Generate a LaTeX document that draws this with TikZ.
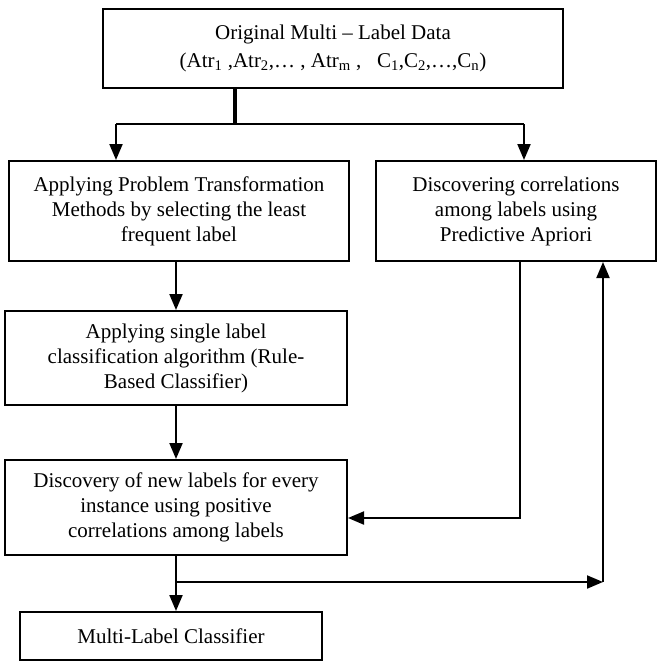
\documentclass[tikz,border=0pt]{standalone}
\usepackage{fontspec}
\setmainfont{Liberation Serif}
\usetikzlibrary{arrows.meta}
\usetikzlibrary{positioning}

\begin{document}
\begin{tikzpicture}[x=1pt,y=-1pt,>={Triangle[length=16pt,width=13pt]},line width=2pt,
    main node/.style={rectangle,draw,align=center,inner sep=0pt,font=\fontsize{21}{25}\selectfont},
    link/.style={->,line width=2pt}]
  \useasboundingbox (0,0) rectangle (658,665);
    \node[main node,minimum width=460pt,minimum height=79pt] (data) at (333,48.5)
      {Original Multi -- Label Data\\[3pt](Atr\textsubscript{1} ,Atr\textsubscript{2},\dots\ , Atr\textsubscript{m} ,\ \ \ C\textsubscript{1},C\textsubscript{2},\dots,C\textsubscript{n})};
    \node[main node,minimum width=340pt,minimum height=100pt] (trans) at (179,211)
      {Applying Problem Transformation\\Methods by selecting the least\\frequent label};
    \node[main node,minimum width=280pt,minimum height=100pt] (corr) at (516,211)
      {Discovering correlations\\among labels using\\Predictive Apriori};
    \node[main node,minimum width=342pt,minimum height=94pt] (single) at (176,358)
      {Applying single label\\classification algorithm (Rule-\\Based Classifier)};
    \node[main node,minimum width=342pt,minimum height=95pt] (disc) at (176,507.5)
      {Discovery of new labels for every\\instance using positive\\correlations among labels};
    \node[main node,minimum width=302pt,minimum height=48pt] (mlc) at (171,636)
      {Multi-Label Classifier};

    % split under the data box
    \coordinate (split) at (235,124);
    \coordinate (lt) at (116,124);
    \coordinate (rt) at (524,124);
    \draw[line width=4pt] (data.south -| split) -- (split);
    \draw (lt) -- (rt);
    \path[link] (lt) edge (lt |- trans.north);
    \path[link] (rt) edge (rt |- corr.north);

    \path[link] (single.north |- trans.south) edge (single.north);
    \path[link] (single) edge (disc);
    \path[link] (disc.south) edge (disc.south |- mlc.north);

    % feedback loops
    \coordinate (fb) at (520,518);
    \draw[link] (corr.south -| fb) -- (fb) -- (fb -| disc.east);
    \coordinate (br) at (176,582);
    \coordinate (up) at (603,582);
    \path[link] (br) edge (up);
    \path[link] (up) edge (up |- corr.south);
\end{tikzpicture}
\end{document}
